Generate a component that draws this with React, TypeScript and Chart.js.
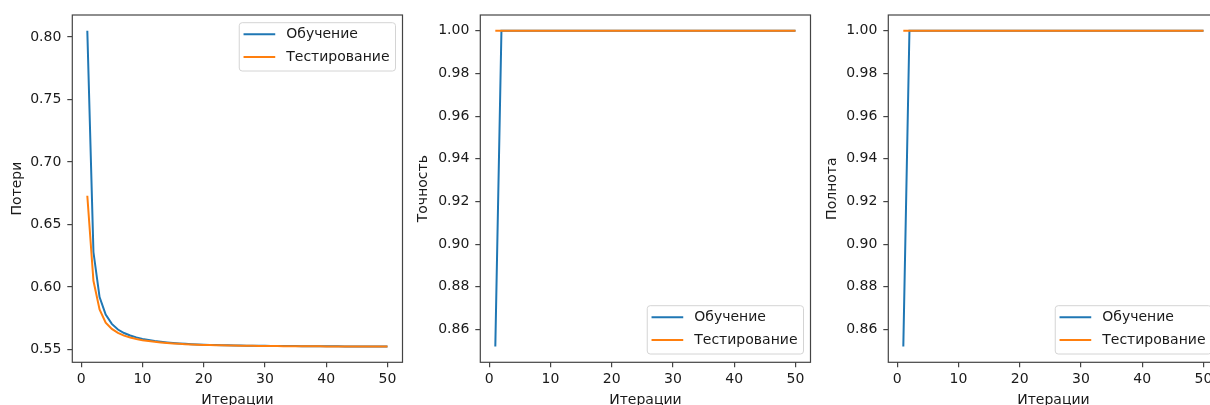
import React, { useEffect, useRef } from "react";
import { Chart, registerables } from "chart.js";

Chart.register(...registerables);

// ---------------- data ----------------
const iterations = [
  1, 2, 3, 4, 5, 6, 7, 8, 9, 10, 11, 12, 13, 14, 15, 16, 17, 18, 19, 20, 21, 22, 23, 24, 25,
  26, 27, 28, 29, 30, 31, 32, 33, 34, 35, 36, 37, 38, 39, 40, 41, 42, 43, 44, 45, 46, 47, 48, 49, 50,
];

const trainLoss = [
  0.805, 0.628, 0.592, 0.578, 0.5705, 0.566, 0.5632, 0.5612, 0.5597, 0.5585,
  0.5576, 0.5568, 0.5562, 0.5557, 0.5553, 0.5549, 0.5546, 0.5543, 0.5541, 0.5539,
  0.5537, 0.5536, 0.5535, 0.5534, 0.5533, 0.5532, 0.5531, 0.5531, 0.553, 0.553,
  0.5529, 0.5529, 0.5528, 0.5528, 0.5528, 0.5527, 0.5527, 0.5527, 0.5526, 0.5526,
  0.5526, 0.5526, 0.5525, 0.5525, 0.5525, 0.5525, 0.5525, 0.5524, 0.5524, 0.5524,
];

const testLoss = [
  0.673, 0.605, 0.582, 0.5715, 0.5665, 0.5633, 0.5611, 0.5596, 0.5584, 0.5575,
  0.5568, 0.5562, 0.5557, 0.5553, 0.5549, 0.5546, 0.5543, 0.5541, 0.5539, 0.5537,
  0.5536, 0.5535, 0.5534, 0.5533, 0.5532, 0.5531, 0.553, 0.553, 0.5529, 0.5529,
  0.5528, 0.5528, 0.5527, 0.5527, 0.5527, 0.5526, 0.5526, 0.5526, 0.5526, 0.5525,
  0.5525, 0.5525, 0.5525, 0.5525, 0.5524, 0.5524, 0.5524, 0.5524, 0.5524, 0.5524,
];

const trainPrecision = [
  0.852, 1, 1, 1, 1, 1, 1, 1, 1, 1, 1, 1, 1, 1, 1, 1, 1, 1, 1, 1, 1, 1, 1, 1, 1,
  1, 1, 1, 1, 1, 1, 1, 1, 1, 1, 1, 1, 1, 1, 1, 1, 1, 1, 1, 1, 1, 1, 1, 1, 1,
];
const testPrecision = [
  1, 1, 1, 1, 1, 1, 1, 1, 1, 1, 1, 1, 1, 1, 1, 1, 1, 1, 1, 1, 1, 1, 1, 1, 1,
  1, 1, 1, 1, 1, 1, 1, 1, 1, 1, 1, 1, 1, 1, 1, 1, 1, 1, 1, 1, 1, 1, 1, 1, 1,
];
const trainRecall = [
  0.852, 1, 1, 1, 1, 1, 1, 1, 1, 1, 1, 1, 1, 1, 1, 1, 1, 1, 1, 1, 1, 1, 1, 1, 1,
  1, 1, 1, 1, 1, 1, 1, 1, 1, 1, 1, 1, 1, 1, 1, 1, 1, 1, 1, 1, 1, 1, 1, 1, 1,
];
const testRecall = [
  1, 1, 1, 1, 1, 1, 1, 1, 1, 1, 1, 1, 1, 1, 1, 1, 1, 1, 1, 1, 1, 1, 1, 1, 1,
  1, 1, 1, 1, 1, 1, 1, 1, 1, 1, 1, 1, 1, 1, 1, 1, 1, 1, 1, 1, 1, 1, 1, 1, 1,
];

const seriesLabels = ["Обучение", "Тестирование"];
const xTitle = "Итерации";
const yTitles = ["Потери", "Точность", "Полнота"];
const xTicks = [0, 10, 20, 30, 40, 50];
const lossTicks = [0.55, 0.6, 0.65, 0.7, 0.75, 0.8];
const metricTicks = [0.86, 0.88, 0.9, 0.92, 0.94, 0.96, 0.98, 1.0];

// ---------------- styling ----------------
const FONT = '"DejaVu Sans", "Liberation Sans", sans-serif';
const FS = 14;
const BLUE = "#1f77b4";
const ORANGE = "#ff7f0e";
const TEXT = "#1a1a1a";
const SPINE = "#444444";
const CANVAS_H = 412;

const framePlugin = {
  id: "mplFrame",
  afterDraw(chart: any) {
    const { ctx, chartArea } = chart;
    ctx.save();
    ctx.strokeStyle = SPINE;
    ctx.lineWidth = 1.2;
    ctx.strokeRect(chartArea.left, chartArea.top, chartArea.right - chartArea.left, chartArea.bottom - chartArea.top);
    ctx.restore();
  },
};

const legendPlugin = {
  id: "mplLegend",
  afterDraw(chart: any, _args: any, opts: any) {
    if (!opts || !opts.loc) return;
    const { ctx, chartArea } = chart;
    ctx.save();
    ctx.font = `${FS}px ${FONT}`;
    const ds = chart.data.datasets;
    const tw = Math.max(...ds.map((d: any) => ctx.measureText(d.label).width));
    const w = 47 + tw + 6;
    const h = 48.3;
    const x = chartArea.right - 7.0 - w;
    const y = opts.loc === "upper" ? chartArea.top + 7.7 : chartArea.bottom - 8.3 - h;
    ctx.beginPath();
    if ((ctx as any).roundRect) (ctx as any).roundRect(x, y, w, h, 3);
    else ctx.rect(x, y, w, h);
    ctx.fillStyle = "rgba(255,255,255,0.8)";
    ctx.fill();
    ctx.strokeStyle = "#d4d4d4";
    ctx.lineWidth = 1;
    ctx.stroke();
    ds.forEach((d: any, i: number) => {
      const cy = y + 11.5 + i * 22.8;
      ctx.beginPath();
      ctx.moveTo(x + 4.3, cy);
      ctx.lineTo(x + 36, cy);
      ctx.strokeStyle = d.borderColor;
      ctx.lineWidth = 2;
      ctx.stroke();
      ctx.fillStyle = TEXT;
      ctx.textBaseline = "middle";
      ctx.textAlign = "left";
      ctx.fillText(d.label, x + 47, cy + 0.5);
    });
    ctx.restore();
  },
};

type Panel = {
  left: number;
  width: number;
  yAxisW: number;
  padRight: number;
  yTitlePad: number;
  legend: "upper" | "lower";
  train: number[];
  test: number[];
  yTicks: number[];
  yTitle: string;
};

const panels: Panel[] = [
  { left: 0, width: 410, yAxisW: 72.3, padRight: 7.5, yTitlePad: 9.0, legend: "upper", train: trainLoss, test: testLoss, yTicks: lossTicks, yTitle: yTitles[0] },
  { left: 400, width: 420, yAxisW: 80.3, padRight: 9.5, yTitlePad: 14.8, legend: "lower", train: trainPrecision, test: testPrecision, yTicks: metricTicks, yTitle: yTitles[1] },
  { left: 808, width: 420, yAxisW: 80.3, padRight: 9.5, yTitlePad: 16.3, legend: "lower", train: trainRecall, test: testRecall, yTicks: metricTicks, yTitle: yTitles[2] },
];

function makeConfig(p: Panel): any {
  const all = [...p.train, ...p.test];
  const lo = Math.min(...all);
  const hi = Math.max(...all);
  const ym = (hi - lo) * 0.05;
  const xLo = Math.min(...iterations);
  const xHi = Math.max(...iterations);
  const xm = (xHi - xLo) * 0.05;
  const tickFont = { family: FONT, size: FS };
  return {
    type: "line",
    data: {
      datasets: [
        {
          label: seriesLabels[0],
          data: iterations.map((x, i) => ({ x, y: p.train[i] })),
          borderColor: BLUE,
          backgroundColor: BLUE,
          borderWidth: 2,
          pointRadius: 0,
          tension: 0,
          order: 1,
        },
        {
          label: seriesLabels[1],
          data: iterations.map((x, i) => ({ x, y: p.test[i] })),
          borderColor: ORANGE,
          backgroundColor: ORANGE,
          borderWidth: 2,
          pointRadius: 0,
          tension: 0,
          order: 0,
        },
      ],
    },
    options: {
      animation: false,
      responsive: false,
      maintainAspectRatio: false,
      devicePixelRatio: 1,
      layout: { padding: { left: 0, right: p.padRight, top: 15, bottom: 0 } },
      plugins: {
        legend: { display: false },
        tooltip: { enabled: false },
        mplLegend: { loc: p.legend },
      },
      scales: {
        x: {
          type: "linear",
          min: xLo - xm,
          max: xHi + xm,
          border: { display: false },
          grid: { display: true, drawOnChartArea: false, drawTicks: true, tickLength: 5, color: SPINE, lineWidth: 1.2 },
          ticks: {
            autoSkip: false,
            maxRotation: 0,
            padding: 4,
            color: TEXT,
            font: tickFont,
            callback: (v: number) => String(Math.round(v)),
          },
          afterBuildTicks: (s: any) => {
            s.ticks = xTicks.map((v) => ({ value: v }));
          },
          afterFit: (s: any) => {
            s.height = CANVAS_H - 362.3;
          },
          title: {
            display: true,
            text: xTitle,
            color: TEXT,
            font: { family: FONT, size: FS },
            padding: { top: 0, bottom: 3 },
          },
        },
        y: {
          type: "linear",
          min: lo - ym,
          max: hi + ym,
          border: { display: false },
          grid: { display: true, drawOnChartArea: false, drawTicks: true, tickLength: 5, color: SPINE, lineWidth: 1.2 },
          ticks: {
            autoSkip: false,
            padding: 6,
            color: TEXT,
            font: tickFont,
            callback: (v: number) => Number(v).toFixed(2),
          },
          afterBuildTicks: (s: any) => {
            s.ticks = p.yTicks.map((v) => ({ value: v }));
          },
          afterFit: (s: any) => {
            s.width = p.yAxisW;
          },
          title: {
            display: true,
            text: p.yTitle,
            color: TEXT,
            font: { family: FONT, size: FS },
            padding: { top: p.yTitlePad, bottom: 0 },
          },
        },
      },
    },
    plugins: [framePlugin, legendPlugin],
  };
}

function PanelChart({ p }: { p: Panel }) {
  const ref = useRef<HTMLCanvasElement | null>(null);
  useEffect(() => {
    if (!ref.current) return;
    const chart = new Chart(ref.current, makeConfig(p));
    return () => chart.destroy();
  }, [p]);
  return (
    <canvas
      ref={ref}
      width={p.width}
      height={CANVAS_H}
      style={{ position: "absolute", left: p.left, top: 0, width: p.width, height: CANVAS_H, display: "block" }}
    />
  );
}

export default function App() {
  return (
    <div
      style={{
        position: "fixed",
        left: 0,
        top: 0,
        width: 1210,
        height: 405,
        overflow: "hidden",
        background: "#ffffff",
      }}
    >
      {panels.map((p, i) => (
        <PanelChart key={i} p={p} />
      ))}
    </div>
  );
}
